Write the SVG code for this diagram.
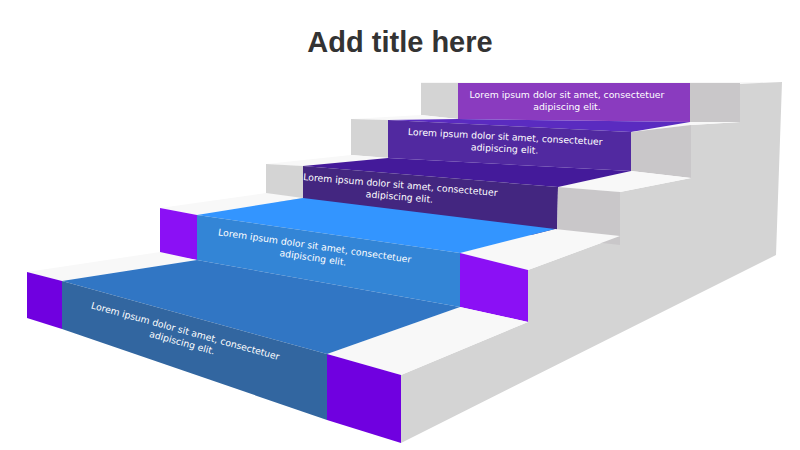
<svg xmlns="http://www.w3.org/2000/svg" width="800" height="450" viewBox="0 0 800 450">
<style>
.t{font-family:"DejaVu Sans",Verdana,sans-serif;font-size:9.3px;fill:#fff;text-anchor:middle}
.w{fill:#f8f8f8}.g{fill:#d4d4d4}.g2{fill:#c9c7c9}
</style>
<rect width="800" height="450" fill="#fff"/>
<text x="400" y="52" font-family="Liberation Sans,Arial,sans-serif" font-size="29" font-weight="bold" fill="#333" text-anchor="middle">Add title here</text>
<polygon class="g" points="401,375 528,322 528,270 620,236 620,192 691,178 691,125 740,122 740,82 782,82 776,255 401,443"/>
<g id="step5">
<polygon class="w" points="421,82 782,82 740,84 421,84"/>
<polygon class="g" points="421,83 458,83 458,119 421,115"/>
<polygon fill="#8a3bbf" points="458,83 690,83 690,122 458,119"/>
<polygon class="g2" points="690,83 740,83 740,122 690,122"/>
<text class="t" x="567" y="98">Lorem ipsum dolor sit amet, consectetuer</text>
<text class="t" x="567" y="110">adipiscing elit.</text>
</g>
<g id="step4">
<polygon class="w" points="351,119 388,120 458,119 421,115"/>
<polygon class="w" points="631,132 691,125 740,122 690,122"/>
<polygon fill="#5a2bc0" points="388,120 631,132 690,122 458,119"/>
<polygon class="g" points="351,119 388,120 388,158 351,155"/>
<polygon fill="#5129a0" points="388,120 631,132 631,171 388,158"/>
<polygon class="g2" points="631,132 691,125 691,178 631,171"/>
<g transform="rotate(3 505 142)"><text class="t" x="505" y="140">Lorem ipsum dolor sit amet, consectetuer</text><text class="t" x="505" y="152">adipiscing elit.</text></g>
</g>
<g id="step3">
<polygon class="w" points="266,164 303,166 390,158 351,155"/>
<polygon class="w" points="558,187 620,192 691,178 631,171"/>
<polygon fill="#441a9a" points="303,166 558,187 631,171 388,158"/>
<polygon class="g" points="266,164 303,166 303,206 266,201"/>
<polygon fill="#432680" points="303,166 558,187 557,238 303,206"/>
<polygon class="g2" points="558,187 620,192 620,245 557,238"/>
<g transform="rotate(4.7 400 190)"><text class="t" x="400" y="188">Lorem ipsum dolor sit amet, consectetuer</text><text class="t" x="400" y="200">adipiscing elit.</text></g>
</g>
<g id="step2">
<polygon class="w" points="160,208 197,215 303,198 266,193"/>
<polygon class="w" points="460,253 528,270 620,236 555,229"/>
<polygon fill="#3395ff" points="197,215 460,253 555,229 303,198"/>
<polygon fill="#8b10f5" points="160,208 197,215 197,260 160,254"/>
<polygon fill="#3385d6" points="197,215 460,253 460,307 197,260"/>
<polygon fill="#8b10f5" points="460,253 528,270 528,322 460,307"/>
<g transform="rotate(8.2 314 251)"><text class="t" x="314" y="249">Lorem ipsum dolor sit amet, consectetuer</text><text class="t" x="314" y="261">adipiscing elit.</text></g>
</g>
<g id="step1">
<polygon class="w" points="27,272 62,281 197,260 160,252"/>
<polygon class="w" points="327,354 401,375 528,322 460,307"/>
<polygon fill="#3176c4" points="62,281 327,354 460,307 197,260"/>
<polygon fill="#7000e0" points="27,272 62,281 62,329 27,318"/>
<polygon fill="#3266a0" points="62,281 327,354 327,420 62,329"/>
<polygon fill="#7000e0" points="327,354 401,375 401,443 327,420"/>
<g transform="rotate(15.4 184 336)"><text class="t" x="184" y="334">Lorem ipsum dolor sit amet, consectetuer</text><text class="t" x="184" y="346">adipiscing elit.</text></g>
</g>
<g id="connectors"/>
</svg>
